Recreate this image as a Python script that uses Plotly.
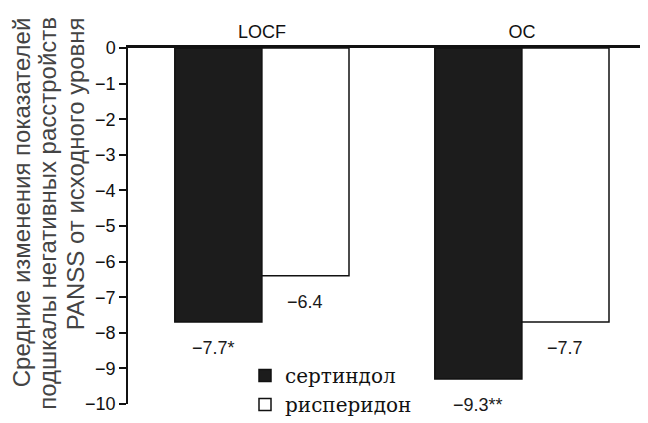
import plotly.graph_objects as go

categories = ["LOCF", "OC"]
sertindole = [-7.7, -9.3]
risperidone = [-6.4, -7.7]
sert_labels = ["−7.7*", "−9.3**"]
risp_labels = ["−6.4", "−7.7"]
series_names = ["сертиндол", "рисперидон"]
y_ticks = [0, -1, -2, -3, -4, -5, -6, -7, -8, -9, -10]
title_lines = ["Средние изменения показателей",
               "подшкалы негативных расстройств",
               "PANSS от исходного уровня"]

xpos = list(range(len(categories)))

fig = go.Figure()
fig.add_trace(go.Bar(x=xpos, y=sertindole, name=series_names[0],
                     marker=dict(color="#1c1c1c", line=dict(color="#111", width=1.5))))
fig.add_trace(go.Bar(x=xpos, y=risperidone, name=series_names[1],
                     marker=dict(color="white", line=dict(color="#111", width=1.5))))

off = 0.67 / 4
lab_font = dict(family="Liberation Sans", size=18, color="#1a1a1a")
for i, (v, t) in enumerate(zip(sertindole, sert_labels)):
    fig.add_annotation(x=xpos[i] - off, y=v, text=t, showarrow=False,
                       xanchor="center", yanchor="top", yshift=-14,
                       xshift=(-5 if t.endswith("*") and not t.endswith("**") else 0),
                       font=lab_font)
for i, (v, t) in enumerate(zip(risperidone, risp_labels)):
    fig.add_annotation(x=xpos[i] + off, y=v, text=t, showarrow=False,
                       xanchor="center", yanchor="top", yshift=-14,
                       font=lab_font)

title_x = [-0.205, -0.155, -0.102]
for xx, line in zip(title_x, title_lines):
    fig.add_annotation(xref="paper", yref="paper", x=xx, y=1.093, text=line,
                       textangle=-90, showarrow=False, xanchor="center", yanchor="top",
                       font=dict(family="Liberation Sans", size=24, color="#444"))

# the page adds an 8px body margin, so the figure is sized to fit the window
fig.update_layout(
    width=640, height=415,
    margin=dict(l=120, r=0, t=40, b=19, autoexpand=False),
    plot_bgcolor="white", paper_bgcolor="white",
    barmode="group", bargap=0.33, bargroupgap=0,
    showlegend=True,
    legend=dict(x=0.225, y=0.135, xanchor="left", yanchor="top",
                font=dict(family="DejaVu Serif", size=20, color="#111"),
                bgcolor="rgba(0,0,0,0)", tracegroupgap=0, itemwidth=30),
    xaxis=dict(range=[-0.515, 1.485], side="top", tickmode="array",
               tickvals=xpos, ticktext=categories, ticks="", showgrid=False,
               showline=True, linecolor="#111", linewidth=2.5, zeroline=False,
               automargin=False,
               tickfont=dict(family="Liberation Sans", size=18, color="#111")),
    yaxis=dict(range=[-10, 0], tickmode="array", tickvals=y_ticks,
               ticks="outside", ticklen=7, tickwidth=1.5, tickcolor="#111",
               showline=True, linecolor="#111", linewidth=1.5, showgrid=False,
               zeroline=False, automargin=False,
               tickfont=dict(family="Liberation Sans", size=18, color="#111")),
)

fig.write_html("out.html")
